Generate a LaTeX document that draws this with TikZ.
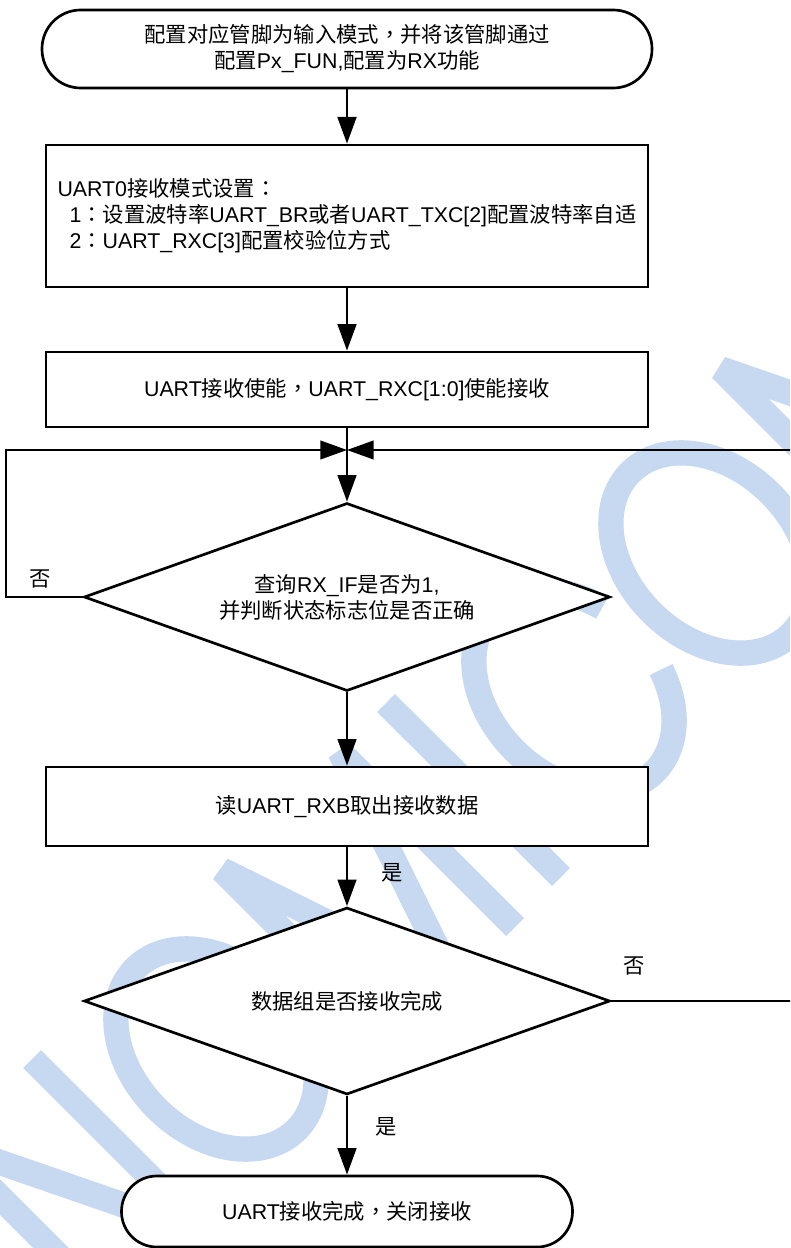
\documentclass[tikz,border=0pt]{standalone}
\usepackage{fontspec}
\setmainfont{Noto Sans CJK SC}
\newfontfamily\latinfont{Liberation Sans}
\newfontfamily\punctfont{Noto Sans CJK TC}
\newcommand{\en}[1]{{\latinfont #1}}
\newcommand{\pu}[1]{{\punctfont #1}}
\usepackage{tikz}
\usetikzlibrary{arrows.meta,shapes.geometric}
\definecolor{wmblue}{RGB}{198,217,240}

\begin{document}
\begin{tikzpicture}[x=0.75pt,y=0.75pt,yscale=-1,xscale=1,
  font=\fontsize{16pt}{19.5pt}\selectfont,
  terminal/.style={draw, fill=white, line width=2pt, rectangle, rounded corners=#1, align=center, inner sep=0pt},
  stepbox/.style={draw, fill=white, line width=2pt, rectangle, minimum width=451.5pt, align=center, inner sep=0pt},
  decision/.style={draw, fill=white, line width=2pt, diamond, aspect=2.8, minimum width=394.5pt, minimum height=141pt, align=center, inner sep=0pt},
  flow/.style={line width=2pt, -{Triangle[length=20pt,width=14pt]}},
  loopback/.style={line width=1.5pt, -{Triangle[length=20pt,width=14pt]}},
  branch/.style={inner sep=0pt},
  wmstroke/.style={draw=wmblue, line width=19pt, line join=bevel}
]
\useasboundingbox (0,0) rectangle (790,1248);
\clip (0,0) rectangle (790,1248);

%Watermark: N
\draw [wmstroke] (122,1319) -- (-53,1144) -- (207,1234) -- (32,1059) ;
%Watermark: O
\draw [wmstroke, rotate around={45:(216,1049)}] (216,1049) ellipse [x radius=114, y radius=84] ;
%Watermark: M
\draw [wmstroke] (397,1045) -- (222,870) -- (456,986) -- (340,752) -- (515,927) ;
%Watermark: I
\draw [wmstroke] (386,703) -- (561,877) ;
%Watermark: C
\draw [wmstroke, rotate around={45:(574,691)}] (620.4,614.3) arc [start angle=-66, end angle=250, x radius=114, y radius=84] ;
%Watermark: O
\draw [wmstroke, rotate around={45:(711,553)}] (711,553) ellipse [x radius=114, y radius=84] ;
%Watermark: N
\draw [wmstroke] (896,544) -- (721,369) -- (981,459) ;

% Text Node
\node [terminal=29pt, minimum width=457.5pt, minimum height=58.5pt] (start) at (347,49) {配置对应管脚为输入模式\pu{，}并将该管脚通过\\配置\en{Px\_FUN,}配置为\en{RX}功能};
% Text Node
\node [stepbox, minimum height=106.5pt, align=left] (setup) at (347,216) {\en{UART0}接收模式设置\pu{：}\\\hspace*{9pt}\en{1}\pu{：}设置波特率\en{UART\_BR}或者\en{UART\_TXC[2]}配置波特率自适\\\hspace*{9pt}\en{2}\pu{：}\en{UART\_RXC[3]}配置校验位方式};
% Text Node
\node [stepbox, minimum height=56.25pt] (enable) at (347,389.5) {\en{UART}接收使能\pu{，}\en{UART\_RXC[1:0]}使能接收};
%Shape: Diamond
\node [decision] (check) at (347,597) {查询\en{RX\_IF}是否为\en{1,}\\并判断状态标志位是否正确};
% Text Node
\node [stepbox, minimum height=59.25pt] (read) at (347,806.5) {读\en{UART\_RXB}取出接收数据};
%Shape: Diamond
\node [decision, minimum height=140.25pt] (done) at (347,1001) {数据组是否接收完成};
% Text Node
\node [terminal=26.5pt, minimum width=338.25pt, minimum height=53.25pt] (finish) at (347,1211.5) {\en{UART}接收完成\pu{，}关闭接收};

\coordinate (join) at (347,450);

%Straight Lines
\draw [flow] (start) -- (setup) ;
\draw [flow] (setup) -- (enable) ;
\draw [line width=2pt] (enable) -- (join) ;
\draw [flow] (join) -- (check) ;
\draw [flow] (check) -- (read) ;
\draw [flow] (read) -- (done) ;
\draw [flow] (done) -- (finish) ;
%Loop Lines
\draw [loopback] (check.west) -- ++(-77,0) |- (join) ;
\draw [loopback] (done.east) -- ++(200,0) |- (join) ;

% Text Node
\node [branch] (no1) at (40,579) {否};
\node [branch] (yes1) at (392,873) {是};
\node [branch] (no2) at (634,966) {否};
\node [branch] (yes2) at (386,1127) {是};

\end{tikzpicture}
\end{document}
